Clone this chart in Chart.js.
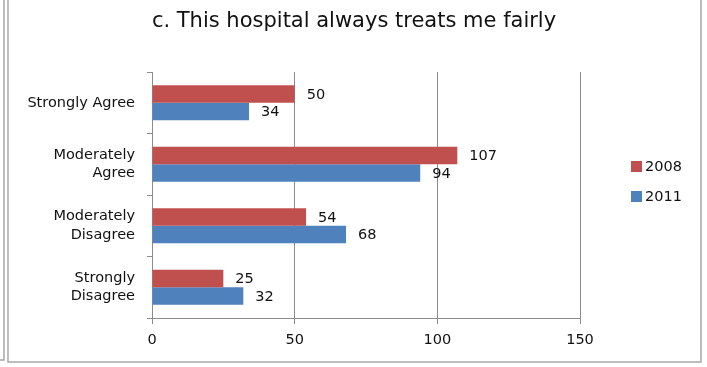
<!DOCTYPE html>
<html>
<head>
<meta charset="utf-8">
<script src="https://cdn.jsdelivr.net/npm/chart.js@4/dist/chart.umd.min.js"></script>
<style>
  html, body { margin: 0; padding: 0; background: #fff; }
  #chart { display: block; }
</style>
</head>
<body>
<canvas id="chart" width="707" height="367"></canvas>
<script>
const titleText = "c. This hospital always treats me fairly";
const categories = [["Strongly Agree"], ["Moderately", "Agree"], ["Moderately", "Disagree"], ["Strongly", "Disagree"]];
const seriesNames = ["2008", "2011"];
const values2008 = [50, 107, 54, 25];
const values2011 = [34, 94, 68, 32];
const xTicks = [0, 50, 100, 150];

const RED = "#C0504D";
const BLUE = "#4F81BD";
const GRID = "#8c8c8c";
const FONT = "'DejaVu Sans', sans-serif";

// frame, title, value labels and legend drawn on top of the chart
const decorations = {
  id: "decorations",
  afterDraw(chart) {
    const ctx = chart.ctx;
    ctx.save();

    // window-like double frame
    ctx.strokeStyle = "#a8a8a8";
    ctx.lineWidth = 1.5;
    ctx.beginPath();
    ctx.moveTo(4, 0); ctx.lineTo(4, 360); ctx.lineTo(0, 360);
    ctx.moveTo(8, 0); ctx.lineTo(8, 362); ctx.lineTo(701, 362); ctx.lineTo(701, 0);
    ctx.stroke();

    // title
    ctx.fillStyle = "#111";
    ctx.font = "21px " + FONT;
    ctx.textAlign = "center";
    ctx.textBaseline = "alphabetic";
    ctx.fillText(titleText, 354, 27);

    // value labels just past the bar ends
    ctx.font = "14.5px " + FONT;
    ctx.textAlign = "left";
    ctx.textBaseline = "middle";
    chart.data.datasets.forEach((ds, i) => {
      chart.getDatasetMeta(i).data.forEach((bar, j) => {
        ctx.fillText(String(ds.data[j]), bar.x + 12, bar.y + 1);
      });
    });

    // legend
    chart.data.datasets.forEach((ds, i) => {
      const y = 166 + i * 30;
      ctx.fillStyle = ds.backgroundColor;
      ctx.fillRect(631, y - 5, 11, 11);
      ctx.fillStyle = "#111";
      ctx.fillText(ds.label, 645, y + 1);
    });

    ctx.restore();
  }
};

new Chart(document.getElementById("chart"), {
  type: "bar",
  data: {
    labels: categories,
    datasets: [
      { label: seriesNames[0], data: values2008, backgroundColor: RED },
      { label: seriesNames[1], data: values2011, backgroundColor: BLUE }
    ]
  },
  options: {
    indexAxis: "y",
    responsive: false,
    animation: false,
    devicePixelRatio: 1,
    categoryPercentage: 0.57,
    barPercentage: 1.0,
    layout: { padding: { top: 72, right: 127, bottom: 0, left: 0 } },
    plugins: {
      legend: { display: false },
      title: { display: false },
      tooltip: { enabled: false }
    },
    scales: {
      x: {
        min: xTicks[0],
        max: xTicks[xTicks.length - 1],
        afterBuildTicks: (s) => { s.ticks = xTicks.map(v => ({ value: v })); },
        afterFit: (s) => { s.height = 49; },
        grid: { color: GRID, tickLength: 6, drawOnChartArea: true },
        border: { color: GRID },
        ticks: { color: "#111", padding: 8, font: { family: FONT, size: 14.5 } }
      },
      y: {
        afterFit: (s) => { s.width = 152; },
        grid: { color: GRID, tickLength: 5, drawOnChartArea: false, offset: true },
        border: { color: GRID },
        ticks: { color: "#111", padding: 12, font: { family: FONT, size: 14.5, lineHeight: 1.25 } }
      }
    }
  },
  plugins: [decorations]
});
</script>
</body>
</html>
